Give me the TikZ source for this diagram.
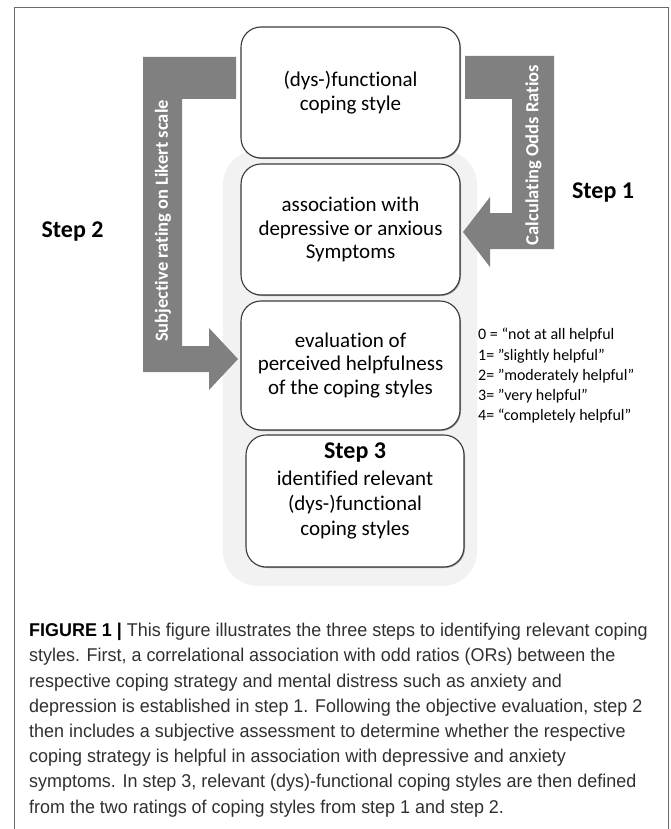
\documentclass[tikz,border=0pt]{standalone}
\usepackage{fontspec}
\setmainfont[Ligatures=NoCommon]{Carlito}
\newfontfamily\capfont[FakeStretch=0.97]{Liberation Sans}
\usetikzlibrary{shadows}
\definecolor{arrowgray}{HTML}{808080}
\definecolor{panelgray}{HTML}{F2F2F2}
\definecolor{boxline}{HTML}{3A3A3A}
\definecolor{framegray}{HTML}{6A6A6A}
\definecolor{captext}{HTML}{303030}
\begin{document}
\begin{tikzpicture}[x=1pt,y=-1pt,
  cbox/.style={draw=boxline, line width=1.1pt, fill=white, rounded corners=20pt,
    minimum width=219pt, minimum height=131pt, align=center, inner sep=0pt,
    font=\fontsize{21}{23.5}\selectfont,
    drop shadow={shadow xshift=1pt,shadow yshift=-1pt,opacity=0.35,fill=black}},
  bartext/.style={rotate=90, text=white, font=\fontsize{18.5}{21}\selectfont\bfseries, inner sep=0pt},
  steplabel/.style={anchor=base, font=\fontsize{24}{28}\selectfont\bfseries, inner sep=0pt},
  arrowshape/.style={fill=arrowgray, draw=none}
]
\useasboundingbox (0,0) rectangle (670,829);
% frame
\draw[framegray, line width=1pt] (14,829) -- (14,8) -- (668,8) -- (668,829);
% grey panel
\fill[panelgray, rounded corners=35pt] (223,150) rectangle (477,586);
% left arrow (Step 2)
\fill[arrowshape] (143,57) -- (236,57) -- (236,99) -- (182,99) -- (182,346) -- (209,346)
  -- (209,328) -- (238,359) -- (209,390) -- (209,372) -- (143,372) -- cycle;
% right arrow (Step 1)
\fill[arrowshape] (465,56) -- (554,56) -- (554,249) -- (490,249) -- (490,267) -- (463,232)
  -- (490,197) -- (490,213) -- (512,213) -- (512,99) -- (465,99) -- cycle;
\node[bartext] (t2) at (163,221) {Subjective rating on Likert scale};
\node[bartext] (t1) at (533.5,155) {Calculating Odds Ratios};
% boxes
\node[cbox] (b1) at (350.5,92.5) {(dys-)functional\\coping style};
\node[cbox] (b2) at (350.5,229.5) {association with\\depressive or anxious\\Symptoms};
\node[cbox, minimum height=129pt] (b3) at (350.5,365.5) {evaluation of\\perceived helpfulness\\of the coping styles};
\node[cbox, minimum width=218pt, minimum height=132pt] (b4) at (355,501) {};
\node[anchor=base, font=\fontsize{24}{28}\selectfont\bfseries, inner sep=0pt] (s3) at (355,458) {Step 3};
\node[anchor=base, align=center, font=\fontsize{21}{25}\selectfont, inner sep=0pt] (b4t) at (355,535)
  {identified relevant\\(dys-)functional\\coping styles};
% step labels
\node[steplabel] (s1) at (603,198) {Step 1};
\node[steplabel] (s2) at (72.5,237) {Step 2};
% Likert list
\node[anchor=north west, align=left, font=\fontsize{16}{20.3}\selectfont, inner sep=0pt] (lik) at (478,328)
  {0 = “not at all helpful\\1= ”slightly helpful”\\2= ”moderately helpful”\\3= ”very helpful”\\4= “completely helpful”};
% caption
\node[anchor=north west, align=left, text=captext, font=\capfont\fontsize{18.5}{25.2}\selectfont, inner sep=0pt] (cap) at (29,623)
  {{\color{black}\bfseries FIGURE 1 |} This figure illustrates the three steps to identifying relevant coping\\
   styles. First, a correlational association with odd ratios (ORs) between the\\
   respective coping strategy and mental distress such as anxiety and\\
   depression is established in step 1. Following the objective evaluation, step 2\\
   then includes a subjective assessment to determine whether the respective\\
   coping strategy is helpful in association with depressive and anxiety\\
   symptoms. In step 3, relevant (dys)-functional coping styles are then defined\\
   from the two ratings of coping styles from step 1 and step 2.};
\end{tikzpicture}
\end{document}
